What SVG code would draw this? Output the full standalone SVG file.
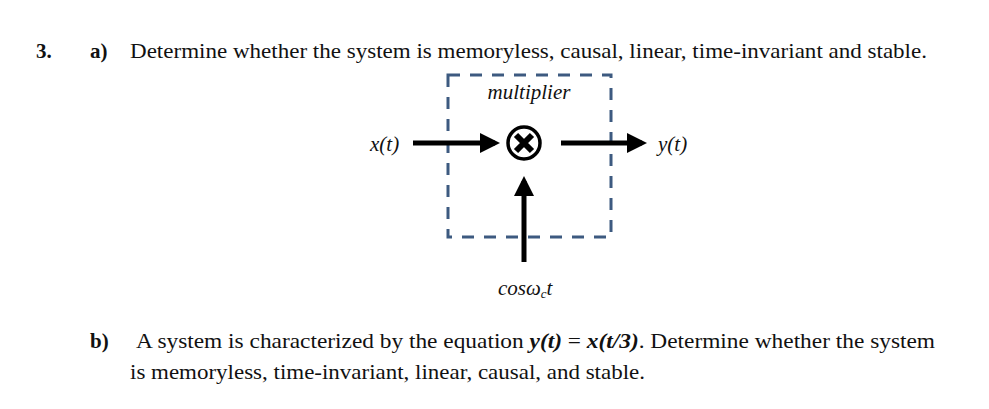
<svg xmlns="http://www.w3.org/2000/svg" width="989" height="409" viewBox="0 0 989 409">
<style>
.t{font-family:"Liberation Serif","Times New Roman",serif;font-size:21px;fill:#111}
.i{font-style:italic}
.b{font-weight:bold}
.w{stroke:#000;stroke-width:5;fill:none}
</style>
<defs><marker id="ah" markerWidth="4" markerHeight="4" refX="3" refY="2" orient="auto" markerUnits="strokeWidth"><path d="M0,0L4,2L0,4z" fill="#000"/></marker></defs>
<rect width="989" height="409" fill="#fff"/>
<text class="t b" x="36" y="58">3.</text>
<text class="t b" x="90" y="58">a)</text>
<text class="t" x="130" y="58" textLength="797" lengthAdjust="spacingAndGlyphs">Determine whether the system is memoryless, causal, linear, time-invariant and stable.</text>
<g id="box"><rect x="448" y="75" width="163" height="162" fill="none" stroke="#3d5a80" stroke-width="3" stroke-dasharray="12,10"/>
<text class="t i" x="529" y="99" text-anchor="middle">multiplier</text></g>
<g id="mult"><circle cx="524" cy="143" r="16" fill="#fff" stroke="#000" stroke-width="3.5"/>
<path d="M516,135L532,151M532,135L516,151" stroke="#000" stroke-width="6"/></g>
<g id="connectors">
<line class="w" x1="413" y1="143" x2="495" y2="143" marker-end="url(#ah)"/>
<line class="w" x1="561" y1="143" x2="642" y2="143" marker-end="url(#ah)"/>
<line class="w" x1="524" y1="262" x2="524" y2="181" marker-end="url(#ah)"/>
</g>
<text class="t i" x="370" y="151">x(t)</text>
<text class="t i" x="658" y="151">y(t)</text>
<text class="t i" x="498" y="295">cos<tspan>ω</tspan><tspan font-size="13" dy="3">c</tspan><tspan dy="-3">t</tspan></text>
<text class="t b" x="90" y="348">b)</text>
<text class="t" x="136" y="348" textLength="799" lengthAdjust="spacingAndGlyphs">A system is characterized by the equation <tspan class="b i">y(t)</tspan> = <tspan class="b i">x(t/3)</tspan>. Determine whether the system</text>
<text class="t" x="130" y="379" textLength="515" lengthAdjust="spacingAndGlyphs">is memoryless, time-invariant, linear, causal, and stable.</text>
</svg>
